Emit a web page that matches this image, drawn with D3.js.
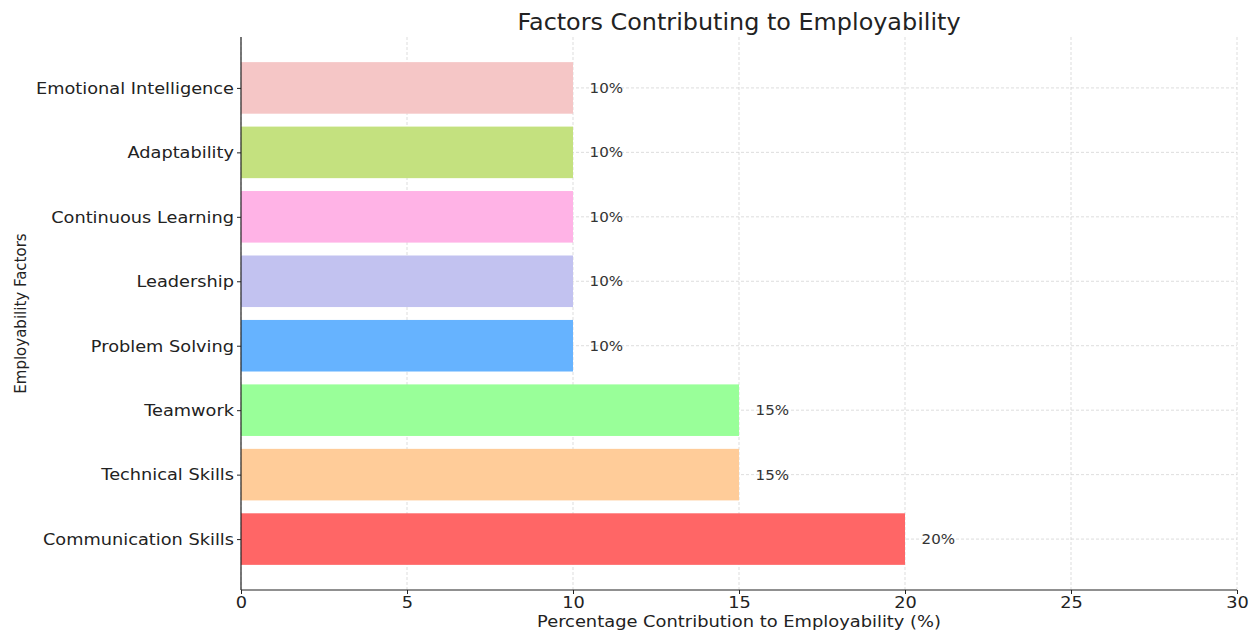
<!DOCTYPE html>
<html>
<head>
<meta charset="utf-8">
<script src="https://cdn.jsdelivr.net/npm/d3@7"></script>
<style>
  body { margin: 0; background: #fff; }
  text { font-family: "DejaVu Sans", sans-serif; }
</style>
</head>
<body>
<div class="canvas"></div>
<script>
// data, bottom to top as drawn
const factors = ['Communication Skills', 'Technical Skills', 'Teamwork', 'Problem Solving',
  'Leadership', 'Continuous Learning', 'Adaptability', 'Emotional Intelligence'];
const percentages = [20, 15, 15, 10, 10, 10, 10, 10];
const barColors = ['#ff6666', '#ffcc99', '#99ff99', '#66b3ff', '#c2c2f0', '#ffb3e6', '#c4e17f', '#f5c6c6'];
const xTicks = [0, 5, 10, 15, 20, 25, 30];

const width = 1255;
const height = 630;
const margin = {top: 37, right: 18, bottom: 40, left: 241};
const graphWidth = width - margin.left - margin.right;
const graphHeight = height - margin.top - margin.bottom;
const stretch = 'scale(1.076,1)'; // source picture is slightly wide

const svg = d3.select('.canvas')
  .append('svg')
  .attr('width', width)
  .attr('height', height);

const graph = svg.append('g')
  .attr('transform', `translate(${margin.left}, ${margin.top})`);

const x = d3.scaleLinear()
  .domain([0, 30])
  .range([0, graphWidth]);

// matplotlib style: bars 0.8 tall, 5% margins
const y = d3.scaleLinear()
  .domain([-0.79, factors.length - 1 + 0.79])
  .range([graphHeight, 0]);

// grid
graph.append('g').selectAll('line')
  .data(xTicks)
  .join('line')
  .attr('x1', d => x(d)).attr('x2', d => x(d))
  .attr('y1', 0).attr('y2', graphHeight)
  .attr('stroke', '#cfcfcf')
  .attr('stroke-width', 0.7)
  .attr('stroke-dasharray', '3,2');

graph.append('g').selectAll('line')
  .data(factors)
  .join('line')
  .attr('x1', 0).attr('x2', graphWidth)
  .attr('y1', (d, i) => y(i)).attr('y2', (d, i) => y(i))
  .attr('stroke', '#cfcfcf')
  .attr('stroke-width', 0.7)
  .attr('stroke-dasharray', '3,2');

// bars
graph.selectAll('rect')
  .data(percentages)
  .join('rect')
  .attr('x', x(0))
  .attr('y', (d, i) => y(i + 0.4))
  .attr('width', d => x(d) - x(0))
  .attr('height', (d, i) => y(i - 0.4) - y(i + 0.4))
  .attr('fill', (d, i) => barColors[i]);

// value labels
graph.selectAll('.val')
  .data(percentages)
  .join('text')
  .attr('class', 'val')
  .attr('transform', (d, i) => `translate(${x(d + 0.5)}, ${y(i)}) ${stretch}`)
  .attr('dy', '0.35em')
  .style('font-size', '14px')
  .attr('fill', '#333')
  .text(d => d + '%');

// axes
const xAxis = d3.axisBottom(x).tickValues(xTicks).tickSize(4).tickPadding(2);
const gXAxis = graph.append('g')
  .attr('transform', `translate(0, ${graphHeight})`)
  .call(xAxis);

const yAxis = d3.axisLeft(y).tickValues(d3.range(factors.length))
  .tickFormat(i => factors[i]).tickSize(4).tickPadding(3);
const gYAxis = graph.append('g').call(yAxis);

[gXAxis, gYAxis].forEach(g => {
  g.select('.domain').attr('stroke', '#222').attr('stroke-width', 1.2);
  g.selectAll('.tick line').attr('stroke', '#222');
  g.selectAll('text')
    .style('font-family', '"DejaVu Sans", sans-serif')
    .style('font-size', '16.5px')
    .attr('fill', '#222');
});
gXAxis.selectAll('.tick text').attr('transform', stretch);
gYAxis.selectAll('.tick text').attr('transform', 'translate(-7,0) ' + stretch).attr('x', 0);
// keep only left and bottom spines
gYAxis.select('.domain').attr('d', `M0,0V${graphHeight}`);
gXAxis.select('.domain').attr('d', `M0,0H${graphWidth}`);

// title and axis labels
svg.append('text')
  .attr('transform', `translate(${margin.left + graphWidth / 2}, 30) ${stretch}`)
  .attr('text-anchor', 'middle')
  .style('font-size', '22.2px')
  .attr('fill', '#222')
  .text('Factors Contributing to Employability');

svg.append('text')
  .attr('transform', `translate(${margin.left + graphWidth / 2}, 627) ${stretch}`)
  .attr('text-anchor', 'middle')
  .style('font-size', '16.6px')
  .attr('fill', '#222')
  .text('Percentage Contribution to Employability (%)');

svg.append('text')
  .attr('transform', `translate(26, ${margin.top + graphHeight / 2}) rotate(-90)`)
  .attr('text-anchor', 'middle')
  .style('font-size', '15px')
  .attr('fill', '#222')
  .text('Employability Factors');
</script>
</body>
</html>
